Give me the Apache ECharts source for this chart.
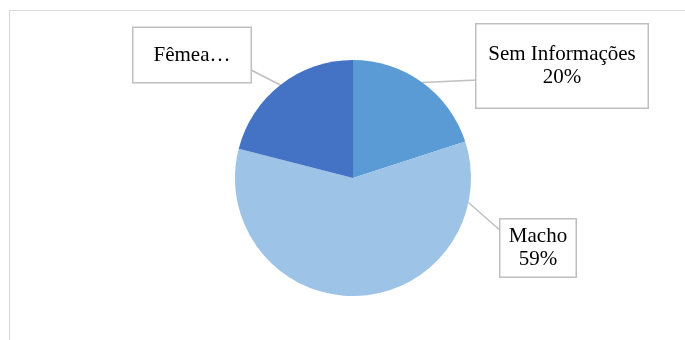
<!DOCTYPE html>
<html>
<head>
<meta charset="utf-8">
<script src="https://cdn.jsdelivr.net/npm/echarts@6/dist/echarts.min.js"></script>
<style>
    html,body{margin:0;padding:0;background:#fff;}
    #chartPie{width:685px;height:340px;}
</style>
</head>
<body>
<div id="chartPie"></div>
<script>
// dados do gráfico
var categorias = ['Sem Informações', 'Macho', 'Fêmea'];
var valores = [20, 59, 21];
var rotulos = ['Sem Informações\n20%', 'Macho\n59%', 'Fêmea…'];
var cores = ['#5B9BD5', '#9DC3E6', '#4472C4'];

// layout das caixas de rótulo: centro, tamanho, ângulo da ponta e ponto de base
var centro = [353, 178], raio = 118;
var posRotulo = [[562, 66], [538, 248], [192, 55]];
var tamRotulo = [[155, 67], [59, 41], [101, 38]];
var padRotulo = [[11, 8, 5, 8], [11, 8, 5, 8], [8, 8, 8, 8]];
var anguloPonta = [36, 102, 322];
var baseSeta = [[477, 80], [502, 232], [251, 70]];

var myChart = echarts.init(document.getElementById('chartPie'));
var dados = [];
for (var i = 0; i < categorias.length; i++) {
    dados.push({
        name: categorias[i],
        value: valores[i],
        itemStyle: {color: cores[i]},
        label: {width: tamRotulo[i][0], height: tamRotulo[i][1], padding: padRotulo[i]}
    });
}
var option = {
    animation: false,
    graphic: [
        {type: 'line', shape: {x1: 9.5, y1: 10, x2: 9.5, y2: 340}, style: {stroke: '#d9d9d9', lineWidth: 1}},
        {type: 'line', shape: {x1: 9, y1: 10.5, x2: 685, y2: 10.5}, style: {stroke: '#d9d9d9', lineWidth: 1}}
    ],
    series: [
        {
            type: 'pie',
            center: centro,
            radius: raio,
            startAngle: 90,
            clockwise: true,
            data: dados,
            label: {
                show: true,
                formatter: function (p) { return rotulos[p.dataIndex]; },
                fontFamily: 'Liberation Serif',
                fontSize: 21,
                lineHeight: 23,
                color: '#000',
                overflow: 'none',
                backgroundColor: '#fff',
                borderColor: '#bfbfbf',
                borderWidth: 1.5,
                align: 'center',
                verticalAlign: 'middle'
            },
            labelLine: {
                show: true,
                length: 10,
                length2: 10,
                lineStyle: {color: '#bfbfbf', width: 1.5}
            },
            labelLayout: function (p) {
                var k = p.dataIndex;
                var a = anguloPonta[k] * Math.PI / 180;
                var ponta = [centro[0] + raio * Math.sin(a), centro[1] - raio * Math.cos(a)];
                return {
                    x: posRotulo[k][0],
                    y: posRotulo[k][1],
                    align: 'center',
                    verticalAlign: 'middle',
                    labelLinePoints: [ponta, baseSeta[k]]
                };
            },
            itemStyle: {borderColor: '#fff', borderWidth: 0},
            emphasis: {disabled: true}
        }
    ]
};
myChart.setOption(option);
</script>
</body>
</html>
